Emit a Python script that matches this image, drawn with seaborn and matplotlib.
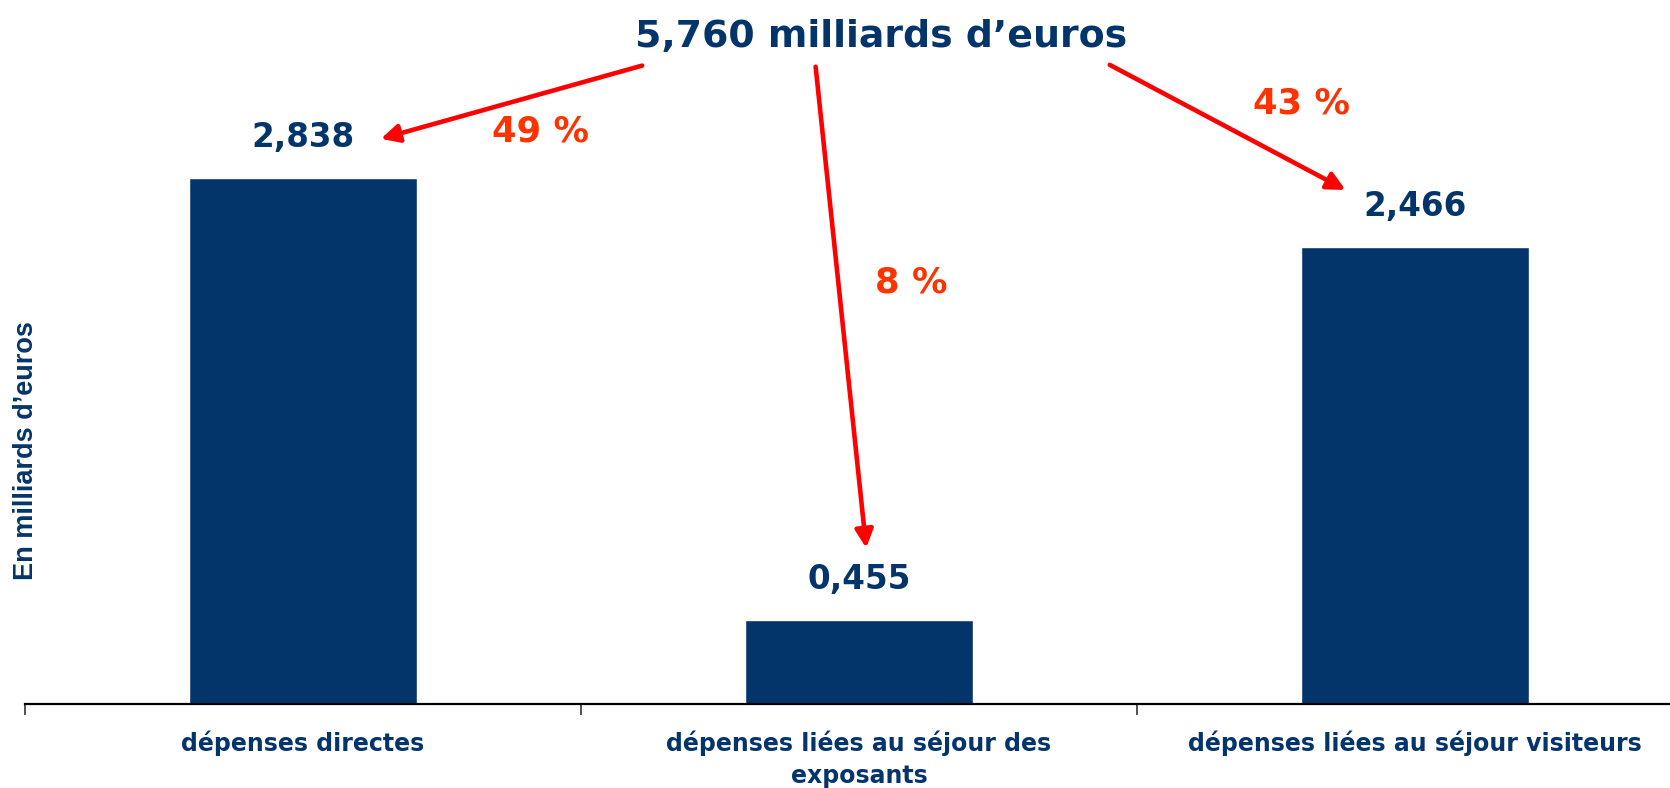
import matplotlib
matplotlib.use("Agg")
import matplotlib.pyplot as plt
import seaborn as sns
import pandas as pd

# ---- data ----
categories = ["dépenses directes",
              "dépenses liées au séjour des\nexposants",
              "dépenses liées au séjour visiteurs"]
values = [2.838, 0.455, 2.466]
value_labels = ["2,838", "0,455", "2,466"]
total_label = "5,760 milliards d\u2019euros"
shares = ["49 %", "8 %", "43 %"]
ylabel = "En milliards d\u2019euros"

# ---- layout (data coordinates) ----
NAVY = "#03356A"
ORANGE = "#FF3300"
RED = "#FF0000"
title_pos = (1.040, 3.600)
arrow_starts = [(0.610, 3.445), (0.922, 3.439), (1.451, 3.449)]
arrow_tips = [(0.140, 3.05), (1.013, 0.842), (1.875, 2.774)]
share_pos = [(0.428, 3.087), (1.094, 2.277), (1.795, 3.243)]

sns.set_style("white")
plt.rcParams["font.family"] = ["DejaVu Sans"]

fig = plt.figure(figsize=(16.7, 7.88), dpi=100)
ax = fig.add_axes([25 / 1670, 84 / 788, 1668 / 1670, 704 / 788])

df = pd.DataFrame({"cat": categories, "val": values})
sns.barplot(data=df, x="cat", y="val", color=NAVY, saturation=1,
            width=0.41, ax=ax)

ax.set_xlim(-0.5, 2.5)
ax.set_ylim(0, 3.799)

for sp in ["top", "right", "left"]:
    ax.spines[sp].set_visible(False)
ax.spines["bottom"].set_color("black")
ax.spines["bottom"].set_linewidth(1.6)

ax.set_yticks([])
ax.set_xlabel("")
ax.set_ylabel("")
ax.set_xticks(range(len(categories)))
ax.set_xticklabels(categories, fontsize=17, fontweight="bold", color=NAVY,
                   linespacing=1.45)
ax.tick_params(axis="x", which="major", length=0, pad=19, bottom=True)
ax.set_xticks([-0.5, 0.5, 1.5, 2.5], minor=True)
ax.tick_params(axis="x", which="minor", length=8, width=1.2, color="#333333",
               direction="out", bottom=True)

# y label
fig.text(26 / 1670, 1 - 451 / 788, ylabel, rotation=90, ha="center", va="center",
         fontsize=19.5, fontweight="bold", color=NAVY,
         family=["Liberation Sans", "DejaVu Sans"])

# value labels
for i, (v, lab) in enumerate(zip(values, value_labels)):
    ax.annotate(lab, (i, v), xytext=(0, 17), textcoords="offset points",
                ha="center", va="bottom", fontsize=23.5, fontweight="bold",
                color=NAVY)

# total
ax.text(*title_pos, total_label, ha="center", va="center", fontsize=27.3,
        fontweight="bold", color=NAVY)

# arrows
for s, t in zip(arrow_starts, arrow_tips):
    ax.annotate("", xy=t, xytext=s,
                arrowprops=dict(arrowstyle="-|>", color=RED, lw=3.3,
                                mutation_scale=27, shrinkA=0, shrinkB=0))

# shares
for (x, y), lab in zip(share_pos, shares):
    ax.text(x, y, lab, ha="center", va="center", fontsize=25.5,
            fontweight="bold", color=ORANGE)

fig.savefig("out.png", dpi=100)
